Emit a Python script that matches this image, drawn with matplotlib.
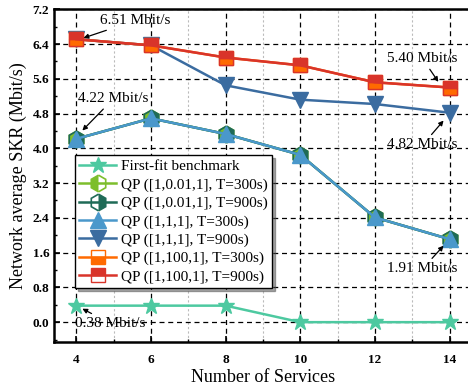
import matplotlib
matplotlib.use("Agg")
import matplotlib.pyplot as plt
from matplotlib.ticker import MultipleLocator, FormatStrFormatter

plt.rcParams['font.family'] = ['Liberation Serif', 'DejaVu Serif']
plt.rcParams['mathtext.fontset'] = 'stix'

services = [4, 6, 8, 10, 12, 14]
first_fit = [0.38, 0.38, 0.38, 0.0, 0.0, 0.0]
qp_001_300 = [4.22, 4.69, 4.33, 3.85, 2.41, 1.91]
qp_001_900 = [4.22, 4.69, 4.33, 3.85, 2.41, 1.91]
qp_111_300 = [4.22, 4.69, 4.33, 3.85, 2.41, 1.91]
qp_111_900 = [6.51, 6.37, 5.45, 5.12, 5.02, 4.82]
qp_100_300 = [6.51, 6.37, 6.09, 5.91, 5.52, 5.40]
qp_100_900 = [6.51, 6.37, 6.09, 5.91, 5.52, 5.40]

labels = ["First-fit benchmark",
          "QP ([1,0.01,1], T=300s)",
          "QP ([1,0.01,1], T=900s)",
          "QP ([1,1,1], T=300s)",
          "QP ([1,1,1], T=900s)",
          "QP ([1,100,1], T=300s)",
          "QP ([1,100,1], T=900s)"]

fig = plt.figure(figsize=(4.68, 3.87), dpi=100)
ax = fig.add_axes([0.1154, 0.117, 0.893, 0.859])

lw = 1.8
ax.plot(services, first_fit, color='#4DC9A0', lw=lw, marker='*', ms=12,
        mec='#4DC9A0', mfc='#4DC9A0', label=labels[0], zorder=3)
ax.plot(services, qp_001_300, color='#7DBE2C', lw=lw, marker='h', ms=12,
        mfc='#7DBE2C', mec='#7DBE2C', fillstyle='left', markerfacecoloralt='none',
        mew=1.2, label=labels[1], zorder=3)
ax.plot(services, qp_001_900, color='#1F6B57', lw=lw, marker='h', ms=12,
        mfc='#1F6B57', mec='#1F6B57', fillstyle='right', markerfacecoloralt='none',
        mew=1.2, label=labels[2], zorder=3)
ax.plot(services, qp_111_300, color='#4A98CB', lw=lw, marker='^', ms=11,
        mfc='#4A98CB', mec='#4A98CB', label=labels[3], zorder=3)
ax.plot(services, qp_111_900, color='#3B6CA0', lw=lw, marker='v', ms=11,
        mfc='#3B6CA0', mec='#3B6CA0', label=labels[4], zorder=3)
ax.plot(services, qp_100_300, color='#FF6A00', lw=lw, marker='s', ms=10,
        mfc='#FF6A00', mec='#FF6A00', fillstyle='bottom', markerfacecoloralt='none',
        mew=1.0, label=labels[5], zorder=3)
ax.plot(services, qp_100_900, color='#D9342A', lw=lw, marker='s', ms=10,
        mfc='#D9342A', mec='#D9342A', fillstyle='top', markerfacecoloralt='none',
        mew=1.0, label=labels[6], zorder=3)

ax.set_xlim(3.4, 14.6)
ax.set_ylim(-0.45, 7.2)
ax.xaxis.set_major_locator(MultipleLocator(2))
ax.xaxis.set_minor_locator(MultipleLocator(1))
ax.yaxis.set_major_locator(MultipleLocator(0.8))
ax.yaxis.set_minor_locator(MultipleLocator(0.4))
ax.yaxis.set_major_formatter(FormatStrFormatter('%.1f'))

ax.grid(True, which='major', color='black', linestyle=(0, (4, 3)), lw=0.9, zorder=1)
ax.grid(True, which='minor', axis='x', color='#BBBBBB', linestyle=(0, (2, 2)), lw=0.8, zorder=1)
ax.set_axisbelow(True)

ax.tick_params(which='both', direction='in', top=False, right=False)
ax.tick_params(which='major', length=4, width=1.2)
ax.tick_params(which='minor', length=2.5, width=1.0)
for lab in ax.get_xticklabels() + ax.get_yticklabels():
    lab.set_fontweight('bold')
    lab.set_fontsize(9.5)
ax.tick_params(axis='x', pad=9)
for s in ['left', 'bottom', 'top']:
    ax.spines[s].set_linewidth(1.8)
ax.spines['right'].set_visible(False)

ax.set_xlabel("Number of Services", fontsize=13, labelpad=2)
ax.set_ylabel("Network average SKR (Mbit/s)", fontsize=13, labelpad=4)

ap = dict(arrowstyle='-|>', color='black', lw=0.9, mutation_scale=7, shrinkA=1, shrinkB=0)
ann = [("6.51 Mbit/s", (4.19, 6.54), (5.58, 6.94)),
       ("4.22 Mbit/s", (4.16, 4.41), (4.99, 5.14)),
       ("5.40 Mbit/s", (13.70, 5.53), (13.28, 6.06)),
       ("4.82 Mbit/s", (13.84, 4.64), (13.28, 4.08)),
       ("1.91 Mbit/s", (13.84, 1.76), (13.28, 1.23)),
       ("0.38 Mbit/s", (4.16, 0.31), (4.91, -0.03))]
for txt, xy, xyt in ann:
    ax.annotate(txt, xy=xy, xytext=xyt, fontsize=11, ha='center', va='center',
                arrowprops=ap, zorder=5)

leg = ax.legend(loc='upper left', bbox_to_anchor=(0.05, 0.562), borderaxespad=0,
                fontsize=11, frameon=True, fancybox=False, shadow=True,
                framealpha=1, edgecolor='black', handlelength=2.4,
                labelspacing=0.3, borderpad=0.3, handletextpad=0.3)
leg.get_frame().set_linewidth(1.0)
leg.set_zorder(6)

fig.savefig("out.png", dpi=100)
